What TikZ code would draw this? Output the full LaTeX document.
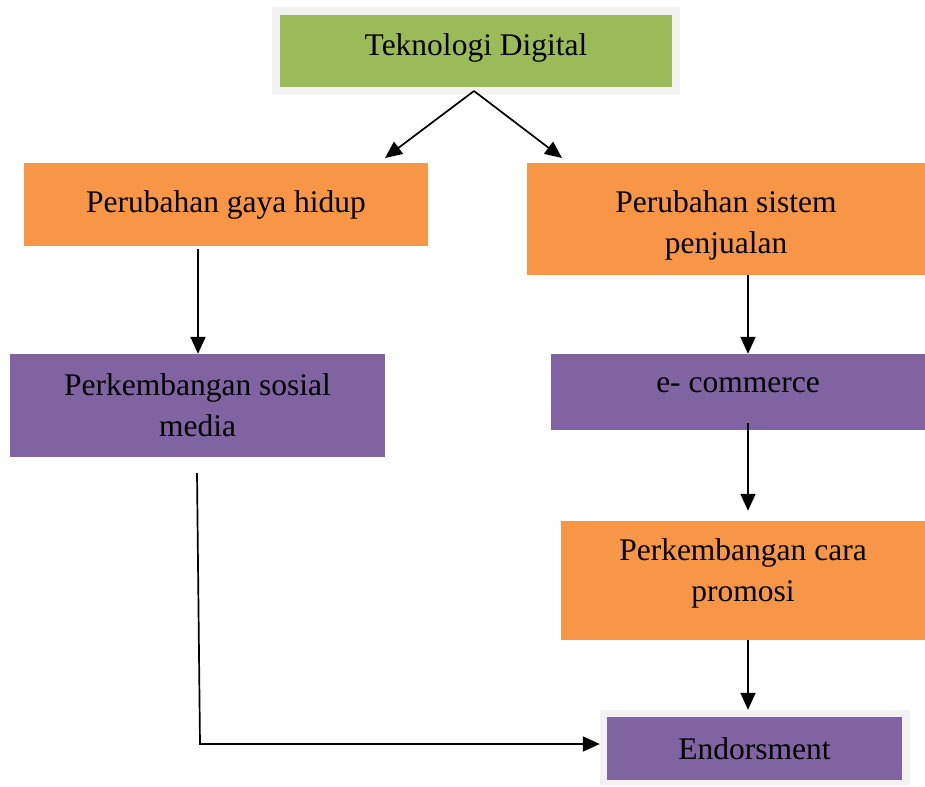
\documentclass[tikz,border=0pt]{standalone}
\usepackage{fontspec}
\setmainfont{Liberation Serif}
\usetikzlibrary{arrows.meta,calc}
\definecolor{tgreen}{HTML}{9BBB59}
\definecolor{torange}{HTML}{F79646}
\definecolor{tpurple}{HTML}{8064A2}
\definecolor{tframe}{HTML}{F2F2F2}
\tikzset{
  box/.style={rectangle, inner sep=0pt, align=center, font=\fontsize{31.5}{41}\selectfont},
  conn/.style={line width=1.7pt, -{Triangle[length=17pt,width=15pt]}},
  plain/.style={line width=1.7pt}
}
\begin{document}
\begin{tikzpicture}[x=1pt,y=-1pt]
\useasboundingbox (0,0) rectangle (925,786);
% top
\node[box, fill=tframe, minimum width=408pt, minimum height=88pt] (tf) at (476,51) {};
\node[box, fill=tgreen, minimum width=392pt, minimum height=72pt, text depth=13pt] (td) at (476,51) {Teknologi Digital};
% second row
\node[box, fill=torange, minimum width=404pt, minimum height=83pt] (gaya) at (226,204.5) {Perubahan gaya hidup};
\node[box, fill=torange, minimum width=398pt, minimum height=112pt, text height=75pt] (sistem) at (726,219) {Perubahan sistem\\penjualan};
% third row
\node[box, fill=tpurple, minimum width=375pt, minimum height=103pt] (sosmed) at (197.5,405.5) {Perkembangan sosial\\media};
\node[box, fill=tpurple, minimum width=374pt, minimum height=76pt, text depth=14pt] (ecom) at (738,392) {e- commerce};
% fourth
\node[box, fill=torange, minimum width=364pt, minimum height=119pt, text depth=20pt] (promosi) at (743,580.5) {Perkembangan cara\\promosi};
% endorsment
\node[box, fill=tframe, minimum width=310pt, minimum height=75pt] (ef) at (755,747.5) {};
\node[box, fill=tpurple, minimum width=295pt, minimum height=63pt] (endo) at (754.5,748.5) {Endorsment};
% connectors
\coordinate (apex) at (474,91);
\draw[conn] (apex) -- (385,158);
\draw[conn] (apex) -- (562,158);
\coordinate (g1) at (198,249);
\draw[conn] (g1) -- (g1 |- sosmed.north);
\coordinate (s1) at (748,275);
\draw[conn] (s1) -- (s1 |- ecom.north);
\coordinate (s2) at (748,423);
\draw[conn] (s2) -- ($(s2 |- promosi.north)+(0,-10)$);
\coordinate (s3) at (748,640);
\draw[conn] (s3) -- (s3 |- ef.north);
\coordinate (l1) at (197,473);
\coordinate (l2) at (200,744);
\draw[plain] (l1) -- (l2);
\draw[conn] ($(l2)+(-1,0)$) -- (l2 -| ef.west);
\end{tikzpicture}
\end{document}
